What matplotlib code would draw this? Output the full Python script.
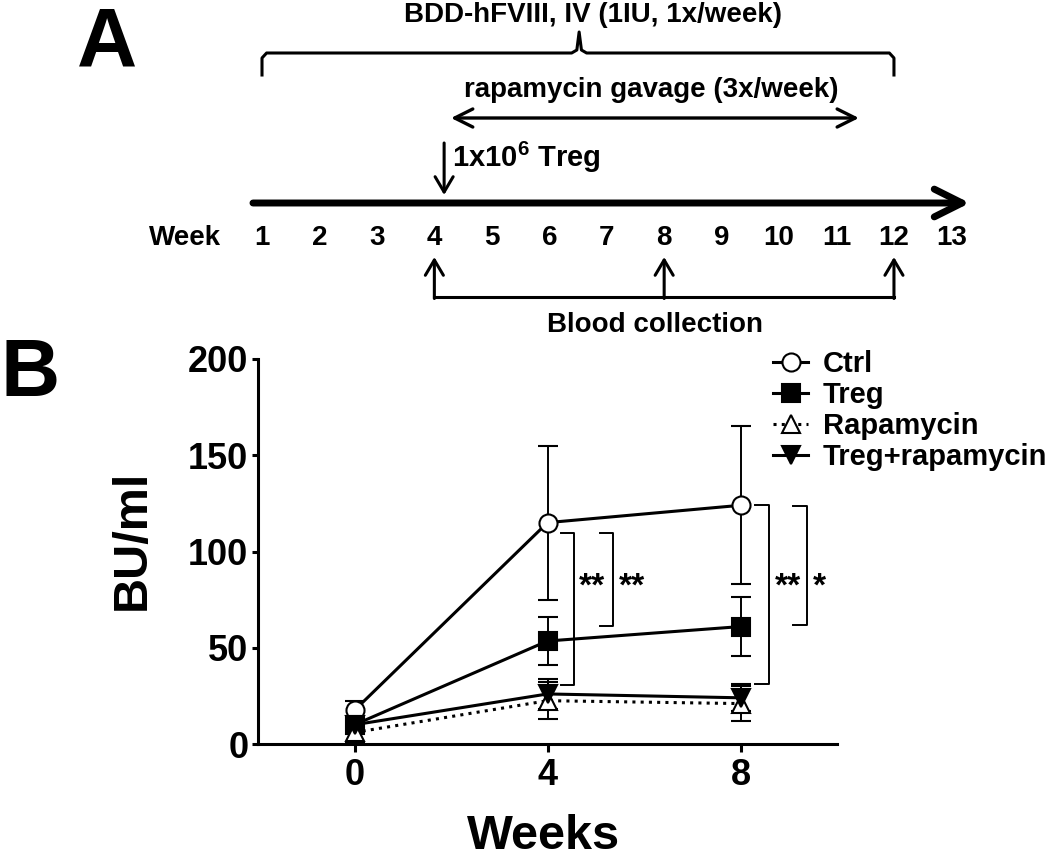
import matplotlib
matplotlib.use('Agg')
import matplotlib.pyplot as plt
from matplotlib.lines import Line2D

plt.rcParams['font.family'] = ['Liberation Sans', 'DejaVu Sans']
plt.rcParams['font.weight'] = 'bold'
plt.rcParams['mathtext.fontset'] = 'custom'
plt.rcParams['mathtext.rm'] = 'Liberation Sans:bold'
plt.rcParams['mathtext.it'] = 'Liberation Sans:bold'
plt.rcParams['mathtext.bf'] = 'Liberation Sans:bold'

# Панель B: титры ингибитора (BU/ml)
weeks = [0, 4, 8]
ctrl = [17.5, 115, 124]
ctrl_err = [5, 40, 41]
treg = [10, 53.5, 61]
treg_err = [4, 12.5, 15.5]
rapa = [6, 22.5, 21]
rapa_err = [5, 9.5, 9]
treg_rapa = [10, 26, 24]
treg_rapa_err = [3, 8, 7]

# значимость (скобки)
sig_x = [4.27, 5.08, 8.31, 9.08]
sig_x_end = [4.54, 5.35, 8.60, 9.37]
sig_top = [109.4, 109.4, 124.2, 123.6]
sig_bottom = [30.6, 61.3, 31.0, 61.8]
sig_text = ['**', '**', '**', '*']

# Панель A: схема эксперимента
timeline_weeks = list(range(1, 14))
fviii_weeks = [1, 12]
rapa_weeks = [4.29, 11.39]
treg_week = 4.17
blood_weeks = [4, 8, 12]

fig = plt.figure(figsize=(10.5, 8.6), dpi=100)

# ---------- панель A ----------
ax_a = fig.add_axes([0, 1 - 335 / 860, 1, 335 / 860])
ax_a.set_xlim(-3.5605, 14.716)
ax_a.set_ylim(335, 0)
ax_a.axis('off')

fig.text(77 / 1050, 1 - 67 / 860, 'A', fontsize=60, va='baseline', ha='left')

# фигурная скобка FVIII
c = (fviii_weeks[0] + fviii_weeks[1]) / 2 + 0.02
bx = [fviii_weeks[0], fviii_weeks[0], fviii_weeks[0] + 0.08, c - 0.13, c - 0.04, c,
      c + 0.04, c + 0.13, fviii_weeks[1] - 0.08, fviii_weeks[1], fviii_weeks[1]]
by = [75, 58, 53, 53, 50, 32, 50, 53, 53, 58, 75]
ax_a.plot(bx, by, color='black', lw=2.2, solid_joinstyle='round')
ax_a.text(6.76, 22, 'BDD-hFVIII, IV (1IU, 1x/week)', fontsize=20, ha='center', va='baseline')

# рапамицин
ax_a.annotate('', xy=(rapa_weeks[1], 118), xytext=(rapa_weeks[0], 118),
              arrowprops=dict(arrowstyle='<->,head_length=1.3,head_width=0.65', lw=2.4,
                              color='black', shrinkA=0, shrinkB=0, mutation_scale=10))
ax_a.text(7.77, 97, 'rapamycin gavage (3x/week)', fontsize=20, ha='center', va='baseline')

# Treg
ax_a.annotate('', xy=(treg_week, 195), xytext=(treg_week, 143),
              arrowprops=dict(arrowstyle='->,head_length=1.1,head_width=0.65', lw=2.2,
                              color='black', shrinkA=0, shrinkB=0, mutation_scale=10))
ax_a.text(4.31, 167, r'1x10$^{6}$ Treg', fontsize=21, ha='left', va='baseline')

# ось времени
ax_a.annotate('', xy=(13.32, 203), xytext=(0.843, 203),
              arrowprops=dict(arrowstyle='->,head_length=2.0,head_width=1.0', lw=5,
                              color='black', shrinkA=0, shrinkB=0, mutation_scale=10))
ax_a.text(-0.34, 245, 'Week', fontsize=20, ha='center', va='baseline')
for w in timeline_weeks:
    ax_a.text(w, 245, str(w), fontsize=20, ha='center', va='baseline')

# забор крови
ax_a.plot([blood_weeks[0], blood_weeks[-1]], [297, 297], color='black', lw=2.2)
for w in blood_weeks:
    ax_a.annotate('', xy=(w, 257), xytext=(w, 298.5),
                  arrowprops=dict(arrowstyle='->,head_length=1.1,head_width=0.65', lw=2.2,
                                  color='black', shrinkA=0, shrinkB=0, mutation_scale=10))
ax_a.text(7.84, 332, 'Blood collection', fontsize=20, ha='center', va='baseline')

# ---------- панель B ----------
fig.text(0.0, 1 - 396 / 860, 'B', fontsize=59, va='baseline', ha='left')

ax = fig.add_axes([258 / 1050, 116 / 860, 579 / 1050, 385 / 860])

series = [
    ('Ctrl', ctrl, ctrl_err, 'o', 'white', '-'),
    ('Treg', treg, treg_err, 's', 'black', '-'),
    ('Rapamycin', rapa, rapa_err, '^', 'white', (0, (1, 1.7))),
    ('Treg+rapamycin', treg_rapa, treg_rapa_err, 'v', 'black', '-'),
]
handles = []
for name, vals, errs, mk, fc, ls in series:
    ax.errorbar(weeks, vals, yerr=errs, color='black', ecolor='black', elinewidth=1.4,
                capsize=7, capthick=1.4, marker=mk, ms=13, mfc=fc, mec='black', mew=1.5,
                lw=2.2, ls=ls)
    handles.append(Line2D([], [], color='black', marker=mk, ms=13, mfc=fc, mec='black',
                          mew=1.5, lw=2.2, ls=ls, label=name))

for x0, x1, top, bot, t in zip(sig_x, sig_x_end, sig_top, sig_bottom, sig_text):
    ax.plot([x0, x1, x1, x0], [top, top, bot, bot], color='black', lw=1.4)
    ax.text(x1 + 0.12, 77, t, fontsize=24, ha='left', va='baseline')

ax.set_xlim(-2, 10)
ax.set_ylim(0, 200)
ax.set_xticks(weeks)
ax.set_yticks([0, 50, 100, 150, 200])
ax.spines['top'].set_visible(False)
ax.spines['right'].set_visible(False)
for s in ('left', 'bottom'):
    ax.spines[s].set_linewidth(2.2)
ax.tick_params(axis='both', labelsize=26, width=2.2)
ax.tick_params(axis='y', length=4, pad=3)
ax.tick_params(axis='x', length=5.8, pad=4)
for lab in ax.get_xticklabels() + ax.get_yticklabels():
    lab.set_fontweight('bold')

fig.text(132 / 1050, 1 - 540 / 860, 'BU/ml', fontsize=35, rotation=90, ha='center', va='center')
fig.text(544 / 1050, 1 - 849 / 860, 'Weeks', fontsize=35, ha='center', va='baseline')

fig.legend(handles=handles, loc='upper left', bbox_to_anchor=(773 / 1050, 1 - 350 / 860),
           frameon=False, borderpad=0, borderaxespad=0, handlelength=1.2, handletextpad=0.5,
           labelspacing=0.1, prop={'size': 21, 'weight': 'bold'})

fig.savefig('out.png', dpi=100)
